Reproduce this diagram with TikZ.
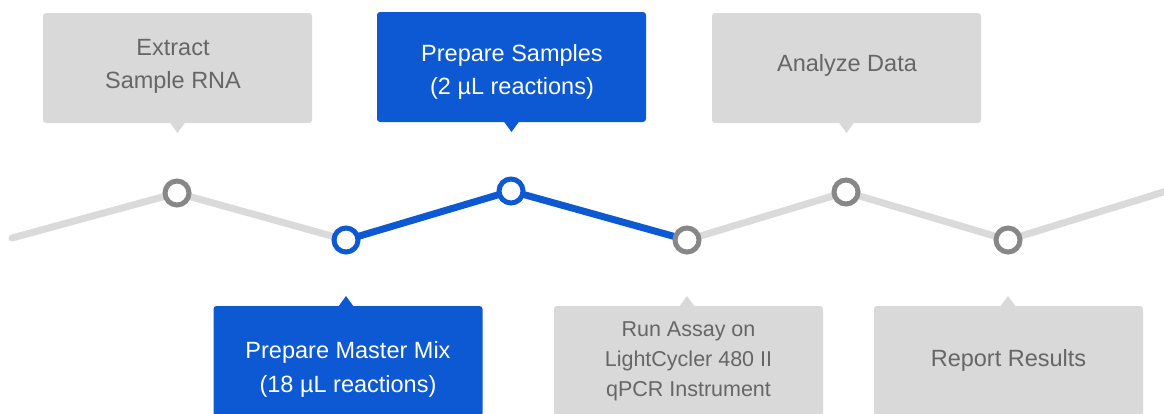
\documentclass[tikz,border=0pt]{standalone}
\usepackage{fontspec}
\setmainfont{Liberation Sans}
\definecolor{boxgray}{HTML}{D9D9D9}
\definecolor{txtgray}{HTML}{666666}
\definecolor{ringgray}{HTML}{878787}
\definecolor{linegray}{HTML}{DADADA}
\definecolor{bluec}{HTML}{0D59D3}
\begin{document}
\begin{tikzpicture}[x=1pt,y=-1pt,
  graybox/.style={fill=boxgray,rounded corners=3pt,minimum width=269pt,minimum height=110pt,inner sep=0pt,draw=none},
  bluebox/.style={fill=bluec,rounded corners=3pt,minimum width=269pt,minimum height=110pt,inner sep=0pt,draw=none},
  gtxt/.style={text=txtgray,align=center,font=\fontsize{23.5}{33}\selectfont},
  wtxt/.style={text=white,align=center,font=\fontsize{23.5}{33.5}\selectfont},
  ring/.style={circle,draw=ringgray,fill=white,line width=5pt,minimum size=24pt,inner sep=0pt},
  bring/.style={ring,draw=bluec},
  gline/.style={draw=linegray,line width=7pt,line cap=round,line join=round},
  bline/.style={draw=bluec,line width=7pt,line cap=round,line join=round}]
\useasboundingbox (0,0) rectangle (1164,413);
\clip (0,0) rectangle (1164,413);
% timeline
\coordinate (s) at (12,238);
\coordinate (e) at (1180,187);
\coordinate (p1) at (177,193);
\coordinate (p2) at (346,240);
\coordinate (p3) at (511,191);
\coordinate (p4) at (687,240);
\coordinate (p5) at (846,192);
\coordinate (p6) at (1008,240);
\draw[gline] (s) -- (p1) -- (p2);
\draw[gline] (p4) -- (p5) -- (p6) -- (e);
\draw[bline] (p2) -- (p3) -- (p4);
\node[ring] (c1) at (p1) {};
\node[bring] (c2) at (p2) {};
\node[bring] (c3) at (p3) {};
\node[ring] (c4) at (p4) {};
\node[ring] (c5) at (p5) {};
\node[ring] (c6) at (p6) {};
% top boxes
\node[graybox] (b1) at (177.5,68) {};
\fill[boxgray] (169.5,122) -- (177.5,133) -- (185.5,122) -- cycle;
\node[gtxt] (t1) at (173,66) {Extract\\Sample RNA};
\node[bluebox] (b3) at (511.5,67) {};
\fill[bluec] (503.5,121) -- (511.5,132) -- (519.5,121) -- cycle;
\node[wtxt] (t3) at (512,72) {Prepare Samples\\(2 µL reactions)};
\node[graybox] (b5) at (846.5,68) {};
\fill[boxgray] (838.5,122) -- (846.5,133) -- (854.5,122) -- cycle;
\node[gtxt] (t5) at (847,65.5) {Analyze Data};
% bottom boxes
\node[bluebox] (b2) at (348,361) {};
\fill[bluec] (338,307) -- (346,296) -- (354,307) -- cycle;
\node[wtxt] (t2) at (348,369.5) {Prepare Master Mix\\(18 µL reactions)};
\node[graybox] (b4) at (688.5,361) {};
\fill[boxgray] (679,307) -- (687,296) -- (695,307) -- cycle;
\node[text=txtgray,align=center,font=\fontsize{21.5}{30}\selectfont] (t4) at (688.5,361.5) {Run Assay on\\LightCycler 480 II\\qPCR Instrument};
\node[graybox] (b6) at (1008.5,361) {};
\fill[boxgray] (1000,307) -- (1008,296) -- (1016,307) -- cycle;
\node[gtxt] (t6) at (1008.5,360.5) {Report Results};
\end{tikzpicture}
\end{document}
